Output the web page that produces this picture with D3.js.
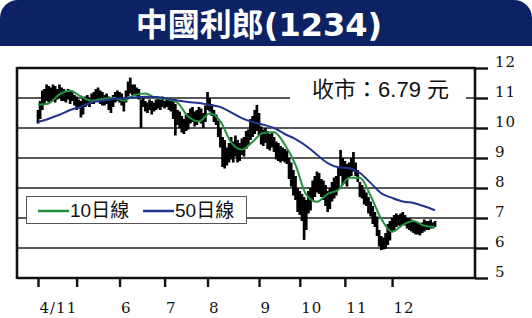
<!DOCTYPE html>
<html>
<head>
<meta charset="utf-8">
<script src="https://cdn.jsdelivr.net/npm/d3@7"></script>
<style>
body { margin: 0; background: #fff; }
</style>
</head>
<body>
<div id="chart"></div>
<script>

var title = '中國利郎(1234)';
var lastClose = 6.79;

// daily high / low, 4/11 to late Dec (trading day index 0..185)
var highs = [
    10.6, 10.9, 11.25, 11.3, 11.45, 11.4, 11.35, 11.45, 11.4, 11.3,
    11.45, 11.35, 11.3, 11.2, 11.3, 11.25, 11.2, 11.1, 11.05, 10.95,
    10.9, 11.0, 11.05, 11.1, 11.0, 11.15, 11.2, 11.3, 11.35, 11.25,
    11.2, 11.1, 11.15, 11.05, 10.95, 11.1, 11.2, 11.25, 11.2, 11.15,
    11.0, 11.25, 11.55, 11.68, 11.45, 11.45, 11.35, 11.3, 10.95, 11.0,
    10.9, 10.85, 10.95, 10.9, 10.85, 10.95, 11.0, 10.95, 11.05, 10.9,
    11.0, 10.95, 10.9, 10.9, 10.8, 10.6, 10.55, 10.4, 10.3, 10.45,
    10.5, 10.65, 10.7, 10.55, 10.6, 10.7, 10.65, 10.5, 10.75, 11.2,
    11.0, 10.8, 10.6, 10.45, 10.25, 10.0, 9.7, 9.6, 9.35, 9.5,
    9.7, 9.55, 9.75, 9.6, 9.5, 9.65, 9.7, 9.9, 9.95, 10.3,
    10.4, 10.6, 10.77, 10.5, 10.05, 9.95, 10.0, 9.9, 9.8, 9.85,
    9.7, 9.55, 9.5, 9.4, 9.35, 9.3, 9.25, 9.0, 8.85, 8.6,
    8.4, 8.0, 7.9, 7.8, 7.7, 7.6, 7.9, 8.0, 8.25, 8.4,
    8.55, 8.5, 8.3, 8.25, 8.1, 7.9, 8.0, 8.2, 8.35, 8.4,
    8.7, 9.27, 9.0, 8.9, 8.8, 8.85, 9.0, 9.2, 8.85, 8.6,
    8.2, 8.1, 7.95, 7.85, 7.7, 7.55, 7.4, 7.2, 7.05, 6.6,
    6.4, 6.35, 6.5, 6.8, 6.9, 7.0, 7.1, 7.15, 7.1, 7.15,
    7.2, 7.1, 7.0, 7.0, 6.95, 6.9, 6.9, 6.85, 6.8, 6.85,
    6.95, 6.9, 6.9, 6.95, 6.85, 6.9
];
var lows = [
    10.15, 10.3, 10.6, 10.8, 10.9, 10.85, 10.9, 10.95, 10.85, 10.95,
    11.0, 10.9, 10.9, 10.85, 10.95, 10.8, 10.9, 10.75, 10.6, 10.65,
    10.35, 10.45, 10.7, 10.75, 10.7, 10.8, 10.8, 10.9, 10.95, 10.8,
    10.75, 10.75, 10.8, 10.6, 10.5, 10.7, 10.85, 10.9, 10.85, 10.75,
    10.55, 10.85, 11.05, 11.15, 11.1, 11.1, 11.05, 10.95, 10.0, 10.7,
    10.55, 10.5, 10.6, 10.45, 10.55, 10.6, 10.65, 10.6, 10.7, 10.65,
    10.7, 10.6, 10.55, 10.3, 9.75, 10.1, 10.0, 9.85, 9.8, 9.9,
    9.95, 10.15, 10.2, 10.05, 10.1, 10.2, 10.15, 10.0, 10.2, 10.6,
    10.55, 10.4, 10.2, 10.1, 9.7, 9.35, 8.7, 8.65, 8.75, 8.85,
    8.95, 8.85, 9.05, 8.85, 8.9, 9.1, 9.05, 9.3, 9.4, 9.6,
    9.7, 9.8, 9.9, 9.75, 9.45, 9.4, 9.5, 9.3, 9.25, 9.35,
    9.2, 8.95, 8.9, 8.85, 8.9, 8.85, 8.8, 8.3, 8.05, 7.75,
    7.6, 7.2, 7.1, 6.9, 6.27, 6.6, 7.15, 7.25, 7.6, 7.7,
    7.85, 7.8, 7.7, 7.6, 7.4, 7.2, 7.3, 7.55, 7.65, 7.75,
    7.95, 8.4, 8.1, 8.15, 8.05, 8.35, 8.4, 8.55, 8.4, 8.2,
    7.7, 7.65, 7.45, 7.4, 7.15, 7.05, 6.8, 6.7, 6.4, 6.05,
    5.93, 5.95, 5.97, 6.1, 6.25, 6.55, 6.6, 6.7, 6.75, 6.7,
    6.8, 6.75, 6.65, 6.6, 6.55, 6.5, 6.45, 6.45, 6.42, 6.5,
    6.55, 6.6, 6.6, 6.65, 6.65, 6.7
];

var maDays = [0, 5, 10, 15, 20, 25, 30, 35, 40, 45, 50, 55, 60, 65, 70, 75, 80, 85, 90,
              95, 100, 105, 110, 115, 120, 125, 130, 135, 140, 145, 150, 155, 160, 165,
              170, 175, 180, 185];
var ma10 = [10.78, 10.82, 11.12, 11.24, 11.05, 10.91, 10.97, 11.0, 10.91, 11.1,
            11.15, 11.0, 10.97, 10.84, 10.38, 10.22, 10.48, 10.22, 9.52, 9.28,
            9.54, 9.84, 9.86, 9.45, 8.77, 7.78, 7.54, 7.8, 7.94, 8.34,
            8.34, 7.74, 6.97, 6.54, 6.77, 6.9, 6.74, 6.7];
var ma50 = [10.2, 10.31, 10.44, 10.6, 10.71, 10.86, 10.91, 10.97, 10.99, 11.02,
            11.04, 11.03, 10.98, 10.92, 10.87, 10.83, 10.77, 10.7, 10.52, 10.33,
            10.2, 10.11, 10.0, 9.8, 9.63, 9.4, 9.11, 8.83, 8.69, 8.66,
            8.5, 8.17, 7.82, 7.67, 7.55, 7.5, 7.39, 7.26];

var monthDays = [0, 18, 38, 59, 79, 103, 122, 143, 165];
var monthLabels = ['4/11', '', '6', '7', '8', '9', '10', '11', '12'];
var yTicks = [5, 6, 7, 8, 9, 10, 11, 12];

var legendItems = [{'text': '10日線', 'color': '#23923f'}, {'text': '50日線', 'color': '#22338f'}];

var W = 532, H = 318;
var svg = d3.select('#chart').append('svg')
    .attr('width', W).attr('height', H)
    .style('background', '#fff');

// header bar
svg.append('path')
    .attr('d', 'M0,46V18A18,18 0 0 1 18,0H514A18,18 0 0 1 532,18V46Z')
    .attr('fill', '#0c2264');
svg.append('text')
    .attr('x', 259).attr('y', 36)
    .attr('text-anchor', 'middle')
    .style('font-family', '"DejaVu Sans", "Noto Sans CJK TC", sans-serif')
    .style('font-weight', 'bold')
    .style('font-size', '32px')
    .attr('fill', '#fff')
    .text(title);

var left = 17, right = 475;
var x = d3.scaleLinear().domain([0, 185]).range([38, 435]);
var y = d3.scaleLinear().domain([5, 12]).range([278, 68]);

// grid
svg.append('g').selectAll('line')
    .data(yTicks.filter(function(d){ return d > 5 && d < 12; }))
    .enter().append('line')
    .attr('x1', left).attr('x2', right)
    .attr('y1', function(d){ return y(d); })
    .attr('y2', function(d){ return y(d); })
    .attr('stroke', '#222').attr('stroke-width', 1.7);

// close price label box
svg.append('rect')
    .attr('x', 290).attr('y', y(11) - 20)
    .attr('width', 176).attr('height', 32)
    .attr('fill', '#fff');
svg.append('text')
    .attr('x', 449).attr('y', y(11) - 1)
    .attr('text-anchor', 'end')
    .style('font-family', '"Liberation Sans", "Noto Sans CJK TC", sans-serif')
    .style('font-size', '22px')
    .attr('fill', '#111')
    .text('收市：' + lastClose + ' 元');

// daily bars
svg.append('g').selectAll('line')
    .data(highs).enter().append('line')
    .attr('x1', function(d, i){ return x(i); })
    .attr('x2', function(d, i){ return x(i); })
    .attr('y1', function(d, i){ return y(lows[i]); })
    .attr('y2', function(d){ return y(d); })
    .attr('stroke', '#000').attr('stroke-width', 2.7);

// moving averages
var maLine = d3.line()
    .x(function(d, i){ return x(maDays[i]); })
    .y(function(d){ return y(d); })
    .curve(d3.curveMonotoneX);

svg.append('path').datum(ma10)
    .attr('d', maLine)
    .attr('fill', 'none').attr('stroke', legendItems[0].color).attr('stroke-width', 2);
svg.append('path').datum(ma50)
    .attr('d', maLine)
    .attr('fill', 'none').attr('stroke', legendItems[1].color).attr('stroke-width', 2);

// legend
svg.append('rect')
    .attr('x', 26.5).attr('y', 196.5)
    .attr('width', 220).attr('height', 27)
    .attr('fill', '#fff').attr('stroke', '#555').attr('stroke-width', 1);

var leg = svg.append('g').selectAll('g')
    .data(legendItems).enter().append('g')
    .attr('transform', function(d, i){ return 'translate(' + (38 + i * 105) + ',211)'; });
leg.append('line')
    .attr('x1', 0).attr('x2', 31)
    .attr('stroke', function(d){ return d.color; })
    .attr('stroke-width', 2.5);
leg.append('text')
    .attr('x', 32).attr('y', 6)
    .style('font-family', '"Liberation Sans", "Noto Sans CJK TC", sans-serif')
    .style('font-size', '19px')
    .attr('fill', '#111')
    .text(function(d){ return d.text; });

// frame
var frame = svg.append('g').attr('stroke', '#111').attr('stroke-width', 2.6);
frame.append('line').attr('x1', left).attr('x2', left).attr('y1', y(12) - 1).attr('y2', y(5) + 1);
frame.append('line').attr('x1', right).attr('x2', right).attr('y1', y(12) - 1).attr('y2', y(5) + 1);
frame.append('line').attr('x1', left).attr('x2', right).attr('y1', y(12)).attr('y2', y(12));
frame.append('line').attr('x1', left).attr('x2', right).attr('y1', y(5)).attr('y2', y(5));

// right axis
var yAxis = svg.append('g')
    .attr('transform', 'translate(' + right + ',0)')
    .call(d3.axisRight(y).tickValues(yTicks).tickSize(13).tickPadding(7)
        .tickFormat(d3.format('d')));
yAxis.select('.domain').remove();
yAxis.selectAll('.tick line').attr('stroke', '#111').attr('stroke-width', 2.4);
yAxis.selectAll('.tick text')
    .attr('dy', '-0.1em')
    .attr('fill', '#111')
    .style('font-family', '"DejaVu Serif", serif')
    .style('font-size', '15px')
    .style('letter-spacing', '1px');

// bottom axis
var xAxis = svg.append('g')
    .attr('transform', 'translate(0,' + y(5) + ')')
    .call(d3.axisBottom(x).tickValues(monthDays).tickSize(9)
        .tickFormat(function(d, i){ return monthLabels[i]; }));
xAxis.select('.domain').remove();
xAxis.selectAll('.tick line').attr('stroke', '#111').attr('stroke-width', 2.4);
xAxis.selectAll('.tick text')
    .attr('text-anchor', 'start')
    .attr('x', 1).attr('y', 35).attr('dy', 0)
    .attr('fill', '#111')
    .style('font-family', '"DejaVu Serif", serif')
    .style('font-size', '15px')
    .style('letter-spacing', '1px');

</script>
</body>
</html>
